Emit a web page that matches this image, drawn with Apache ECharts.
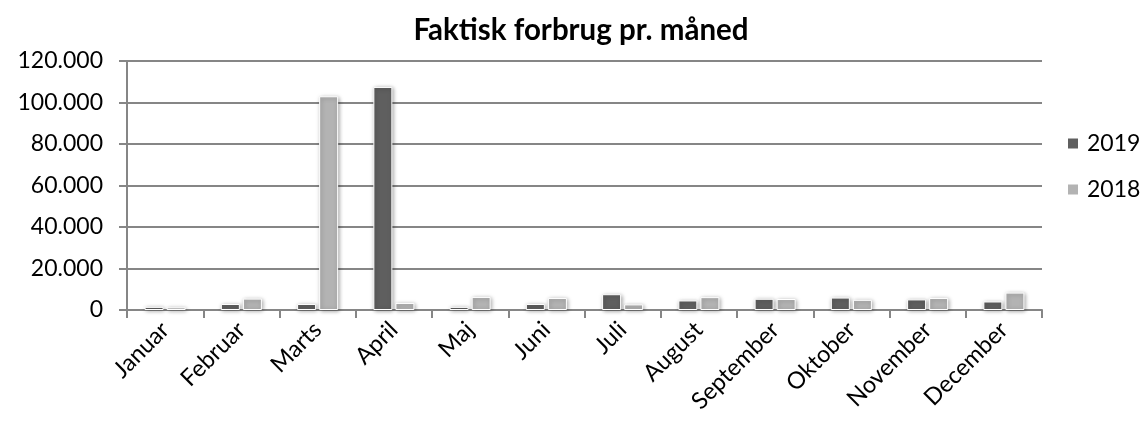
<!DOCTYPE html>
<html><head><meta charset="utf-8">
<script src="https://cdn.jsdelivr.net/npm/echarts@6/dist/echarts.min.js"></script>
<style>html,body{margin:0;padding:0;background:#fff}#c{width:1143px;height:425px}</style>
</head><body><div id="c"></div>
<script>
const categories = ['Januar','Februar','Marts','April','Maj','Juni','Juli','August','September','Oktober','November','December'];
const values2019 = [1500, 2900, 2900, 107500, 1500, 2900, 7600, 4600, 5400, 6000, 5100, 4100];
const values2018 = [1300, 5500, 103000, 3400, 6300, 5800, 2700, 6200, 5300, 4900, 5800, 8400];
const yTicks = [0, 20000, 40000, 60000, 80000, 100000, 120000];

const font = 'Lato, "Open Sans", sans-serif';
const chart = echarts.init(document.getElementById('c'), null, {renderer: 'canvas'});
const barStyle = c => ({color: c, borderColor: '#fff', borderWidth: 1, shadowBlur: 4, shadowColor: 'rgba(0,0,0,0.35)', shadowOffsetX: 1, shadowOffsetY: 1});
chart.setOption({
  animation: false,
  title: {text: 'Faktisk forbrug pr. måned', left: 576, top: 10, textAlign: 'center',
    textStyle: {fontFamily: font, fontWeight: 'bold', fontSize: 29.5, color: '#000'}},
  legend: {orient: 'vertical', left: 1061, top: 127, itemGap: 23, itemWidth: 12, itemHeight: 12,
    icon: 'rect', data: ['2019', '2018'],
    textStyle: {fontFamily: font, fontSize: 23, color: '#000', padding: [0, 0, 0, 3]}},
  grid: {left: 127, right: 101, top: 61, bottom: 115, containLabel: false},
  xAxis: {type: 'category', data: categories,
    axisLine: {lineStyle: {color: '#868686', width: 2}},
    axisTick: {show: true, length: 8, alignWithLabel: false, lineStyle: {color: '#868686', width: 2}},
    axisLabel: {rotate: 45, fontFamily: font, fontSize: 23.5, color: '#000', margin: 16, interval: 0}},
  yAxis: {type: 'value', min: 0, max: 120000, interval: 20000,
    axisLine: {show: true, lineStyle: {color: '#868686', width: 2}},
    axisTick: {show: true, length: 8, lineStyle: {color: '#868686', width: 2}},
    splitLine: {lineStyle: {color: '#868686', width: 2}},
    axisLabel: {fontFamily: font, fontSize: 23, color: '#000', margin: 24,
      formatter: v => yTicks.includes(v) ? (v === 0 ? '0' : v.toLocaleString('de-DE')) : ''}},
  series: [
    {name: '2019', type: 'bar', data: values2019, barWidth: 19, barGap: '16%', itemStyle: barStyle('#5f5f5f')},
    {name: '2018', type: 'bar', data: values2018, barWidth: 19, itemStyle: barStyle('#b3b3b3')}
  ]
});
</script></body></html>
